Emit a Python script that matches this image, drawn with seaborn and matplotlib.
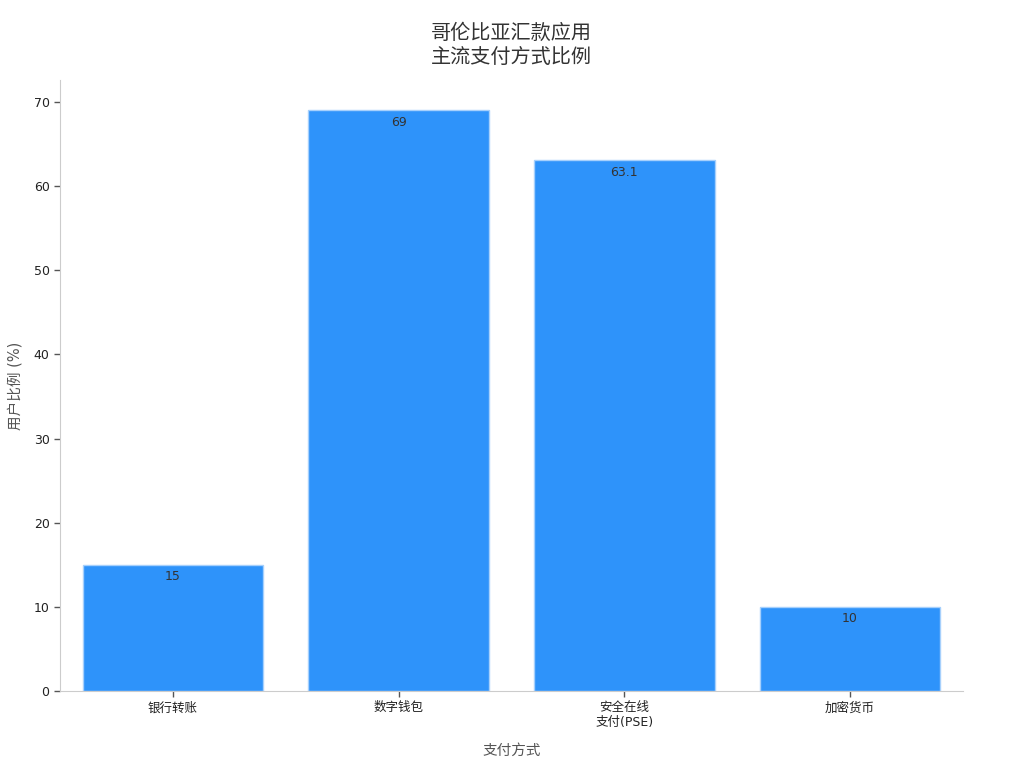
import pandas as pd
import matplotlib
matplotlib.use('Agg')
import matplotlib.pyplot as plt
import seaborn as sns

# data
methods = ['银行转账', '数字钱包', '安全在线\n支付(PSE)', '加密货币']
shares = [15, 69, 63.1, 10]
labels = ['15', '69', '63.1', '10']

sns.set_style('ticks')
plt.rcParams['font.family'] = ['DejaVu Sans', 'Noto Sans CJK SC']

df = pd.DataFrame({'方式': methods, '比例': shares})

fig = plt.figure(figsize=(10.24, 7.68), dpi=100)
ax = fig.add_axes([0.0586, 0.1003, 0.8818, 0.7955])
sns.barplot(data=df, x='方式', y='比例', color='#2E93FA', saturation=1,
            width=0.8, edgecolor='#A6D0FC', linewidth=1, ax=ax)

for p, lab in zip(ax.patches, labels):
    ax.annotate(lab, (p.get_x() + p.get_width() / 2, p.get_height()),
                xytext=(0, -4), textcoords='offset points',
                ha='center', va='top', fontsize=9, color='#333333')

ax.set_xlim(-0.5, 3.5)
ax.set_ylim(0, 72.6)
ax.set_yticks(range(0, 71, 10))
ax.set_xlabel('支付方式', fontsize=10.5, color='#555555', labelpad=10)
ax.set_ylabel('用户比例 (%)', fontsize=10.5, color='#555555', labelpad=8)
ax.tick_params(axis='both', labelsize=9, labelcolor='#222222', color='#555555',
               length=4, width=1)
sns.despine(ax=ax)
for s in ['left', 'bottom']:
    ax.spines[s].set_color('#cccccc')
ax.set_title('哥伦比亚汇款应用\n主流支付方式比例', fontsize=14.5, color='#333333',
             pad=12, linespacing=1.35)

fig.savefig('out.png', dpi=100)
